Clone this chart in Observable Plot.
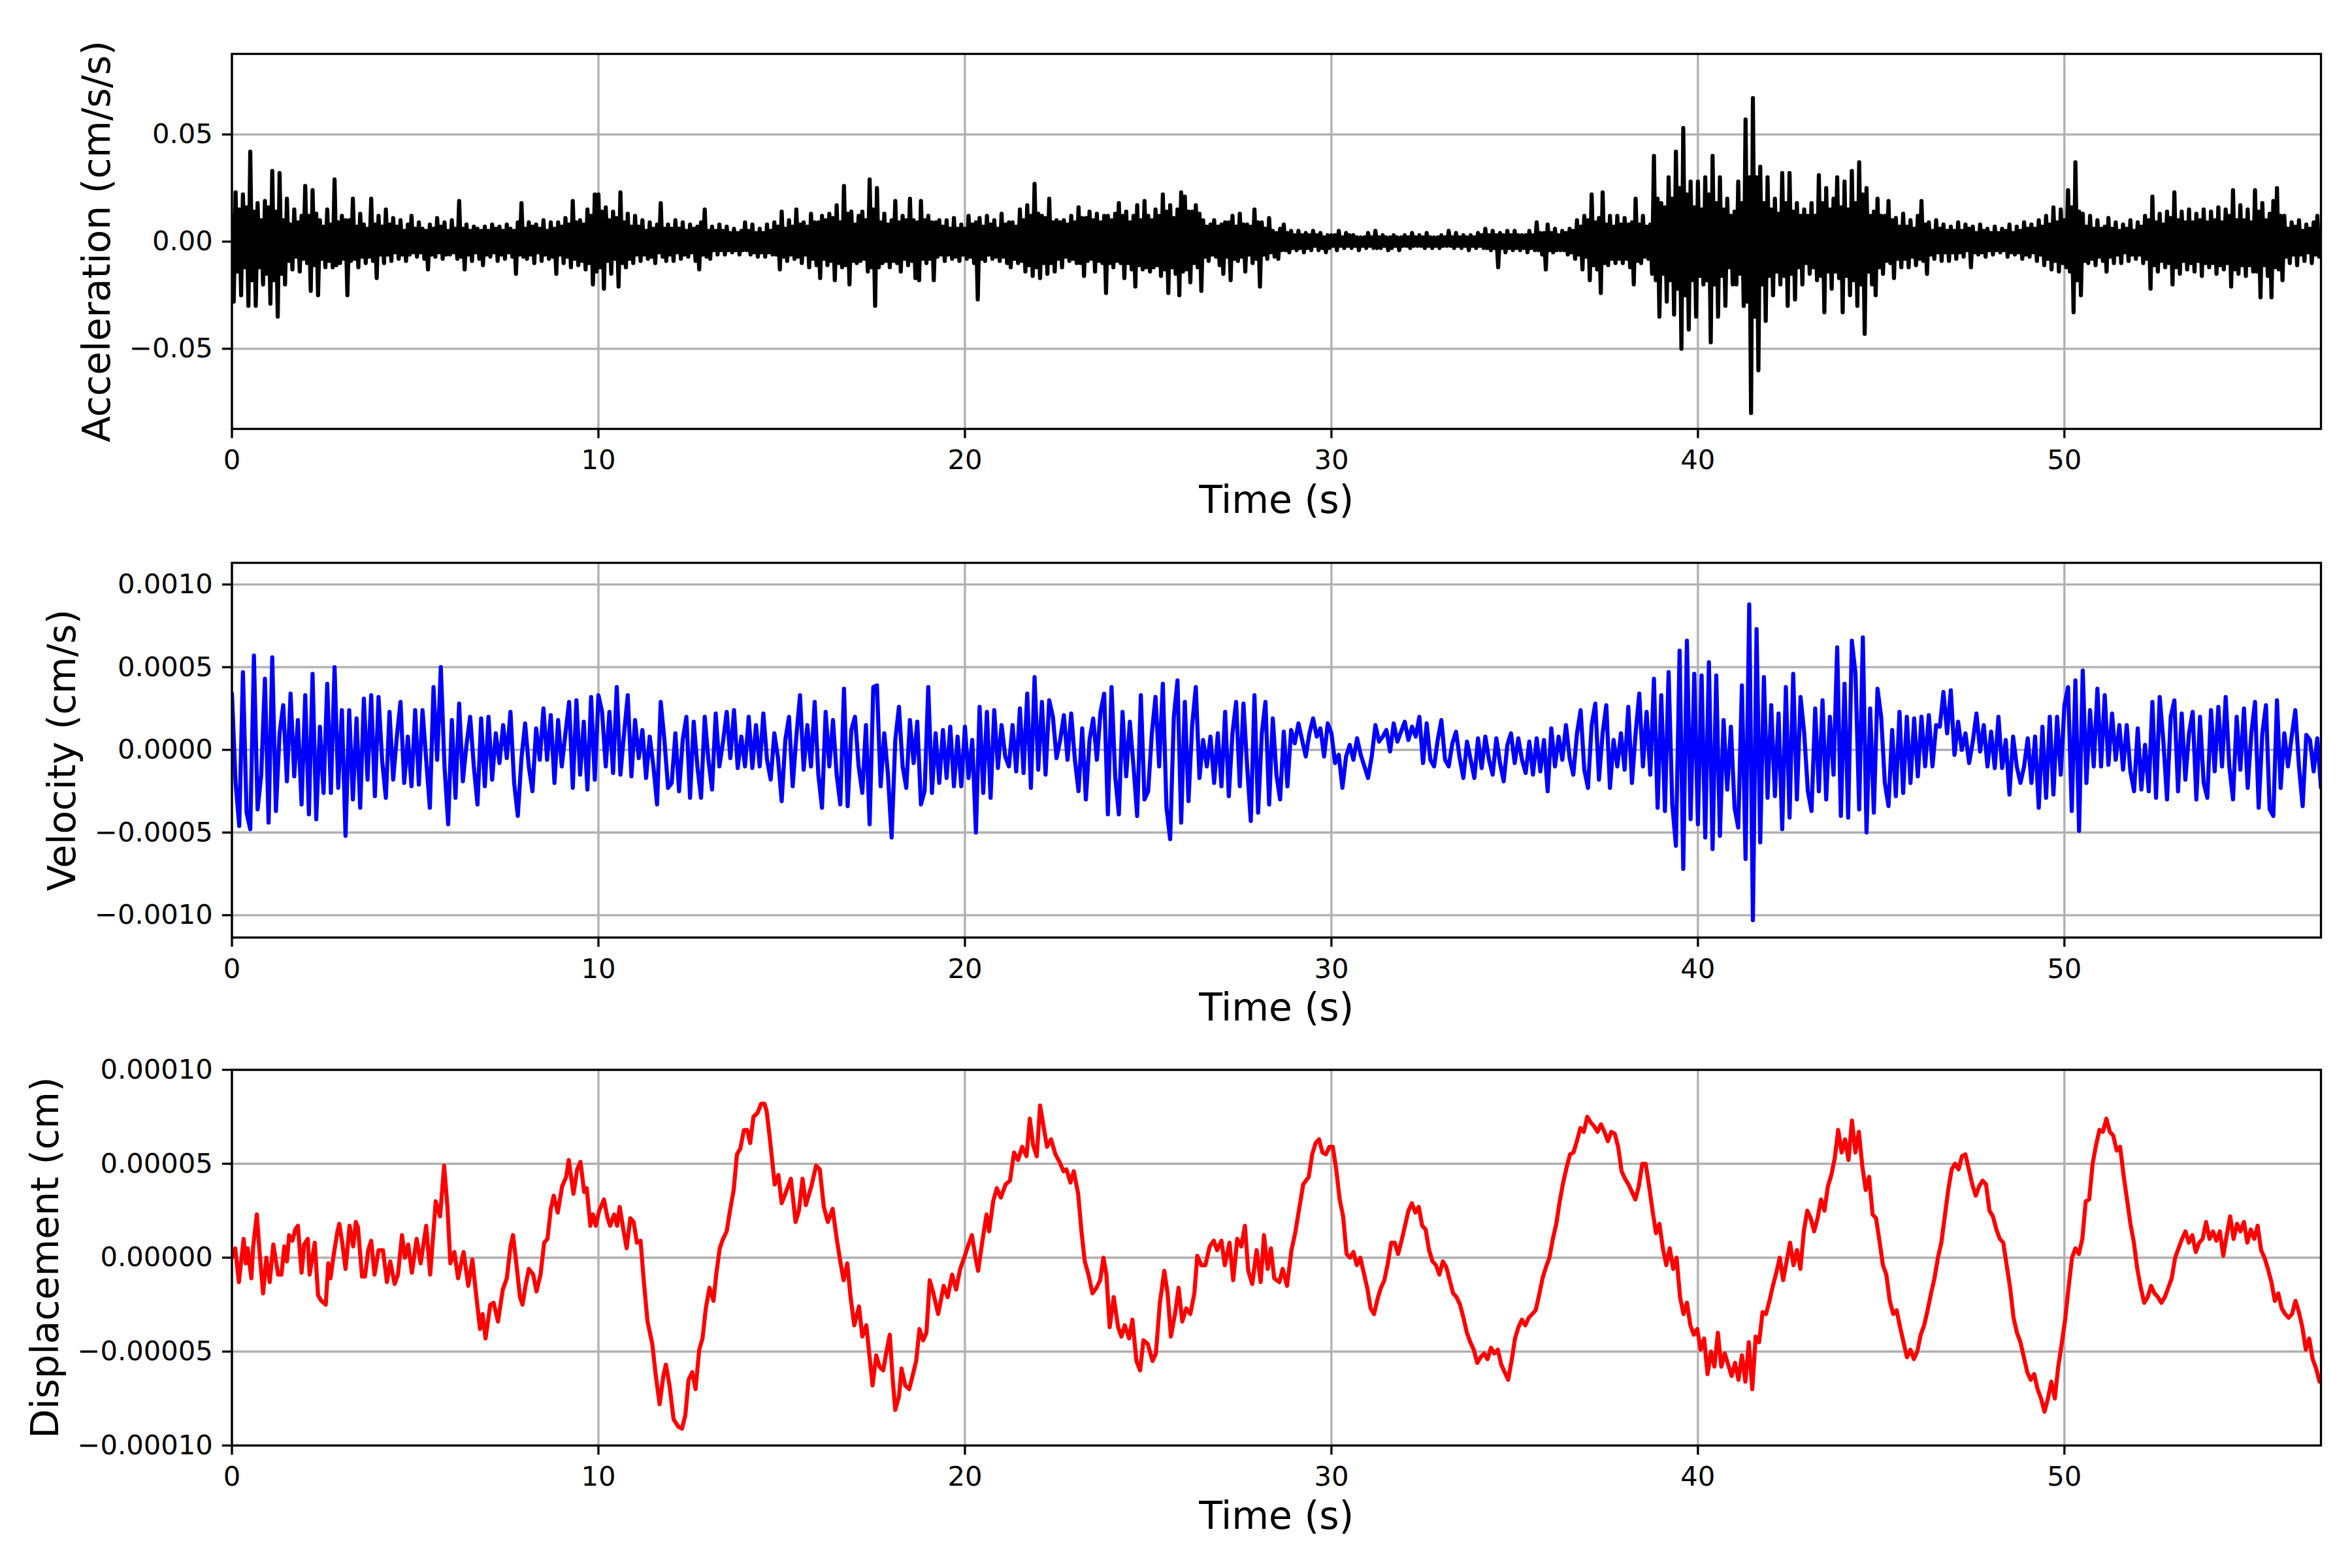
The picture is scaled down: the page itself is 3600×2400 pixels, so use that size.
<!DOCTYPE html>
<html>
<head>
<meta charset="utf-8">
<script src="https://cdn.jsdelivr.net/npm/d3@7"></script>
<script src="https://cdn.jsdelivr.net/npm/@observablehq/plot@0.6"></script>
<style>
  html, body { margin: 0; padding: 0; background: #ffffff; }
  #chart { width: 3600px; height: 2400px; background: #ffffff; }
  #chart svg { display: block; }
</style>
</head>
<body>
<div id="chart"></div>
<script>
// ---------------- Axis text ----------------
const xLabel = "Time (s)";
const accLabel = "Acceleration (cm/s/s)";
const velLabel = "Velocity (cm/s)";
const dispLabel = "Displacement (cm)";

const xTicks = [0, 10, 20, 30, 40, 50];
const accTicks = [-0.05, 0, 0.05];
const velTicks = [-0.001, -0.0005, 0, 0.0005, 0.001];
const dispTicks = [-0.0001, -0.00005, 0, 0.00005, 0.0001];

// ---------------- Acceleration (units of 1e-3 cm/s/s), sampled every 0.05 s ----------------
const accUnit = 1e-3;
const accStep = 0.05;
const accValues = [
  12,-28,23,-14,15,-25,22,-12,16,-30,42,-18,14,-30,18,-12,10,-20,19,-15,
  16,-29,33,-18,14,-35,32,-15,10,-20,20,-9,8,-13,15,-7,9,-14,12,-8,
  26,-10,12,-23,24,-11,13,-25,10,-8,7,-12,15,-9,8,-12,29,-11,9,-10,
  12,-8,10,-25,10,-9,20,-8,7,-12,13,-7,8,-10,6,-7,20,-9,8,-17,
  12,-6,7,-10,15,-6,8,-9,11,-5,7,-8,10,-6,5,-9,8,-6,12,-5,
  6,-7,9,-5,6,-8,5,-13,8,-6,6,-7,11,-5,7,-8,9,-6,5,-6,
  10,-5,6,-8,19,-7,6,-13,8,-6,5,-9,7,-5,6,-8,5,-11,7,-6,
  5,-7,8,-5,6,-9,7,-6,5,-8,8,-5,6,-7,5,-15,9,-6,18,-7,
  6,-8,9,-6,7,-10,8,-5,6,-9,10,-6,5,-8,9,-7,6,-15,9,-6,
  7,-10,11,-7,8,-12,19,-8,9,-11,10,-9,8,-13,15,-10,12,-20,22,-14,
  22,-12,14,-22,16,-9,10,-15,14,-8,11,-21,23,-10,9,-12,13,-8,7,-10,
  12,-6,7,-9,10,-6,5,-8,9,-7,6,-10,8,-5,18,-7,6,-9,8,-6,
  6,-9,10,-5,6,-8,9,-6,5,-7,8,-5,6,-9,7,-13,9,-6,15,-7,
  5,-8,7,-4,5,-6,8,-4,5,-6,7,-4,4,-5,6,-4,4,-6,5,-4,
  9,-4,5,-6,8,-5,4,-7,6,-5,4,-7,8,-5,5,-6,9,-6,7,-13,
  14,-7,6,-9,10,-6,7,-8,15,-7,8,-10,9,-6,7,-12,13,-8,9,-11,
  9,-17,12,-8,10,-11,13,-9,11,-18,17,-10,9,-12,26,-11,13,-20,14,-9,
  8,-10,12,-9,14,-8,10,-14,29,-12,15,-30,25,-12,9,-10,13,-9,8,-12,
  10,-9,19,-10,9,-14,12,-8,10,-11,20,-9,10,-17,9,-18,19,-8,10,-10,
  12,-8,9,-18,9,-7,10,-6,7,-9,10,-6,6,-8,11,-7,6,-9,8,-6,
  6,-8,12,-7,8,-10,9,-27,11,-8,7,-9,12,-6,8,-8,10,-7,6,-9,
  13,-7,8,-10,9,-12,9,-8,7,-10,15,-9,10,-14,17,-11,12,-16,27,-12,
  13,-17,12,-10,11,-15,20,-10,9,-14,10,-8,9,-12,10,-7,8,-9,12,-8,
  9,-10,16,-10,11,-16,11,-9,14,-8,10,-14,13,-9,9,-10,12,-24,12,-10,
  10,-12,13,-9,18,-10,12,-17,14,-10,9,-13,12,-21,17,-11,10,-13,19,-12,
  12,-14,10,-12,15,-11,12,-16,22,-13,14,-24,17,-12,11,-15,15,-25,23,-14,
  21,-13,14,-19,14,-10,17,-12,13,-23,10,-7,7,-9,8,-6,10,-7,7,-11,
  8,-15,9,-7,9,-18,12,-8,7,-9,13,-7,8,-14,8,-6,7,-10,15,-8,
  9,-21,9,-6,6,-8,11,-5,5,-7,4,-8,6,-4,8,-4,4,-5,5,-3,
  3,-4,5,-3,3,-5,4,-3,3,-4,5,-2,3,-4,4,-3,2,-5,3,-3,
  3,-2,3,-4,5,-2,2,-3,4,-2,3,-3,3,-2,2,-4,2,-2,2,-3,
  4,-2,2,-3,5,-3,2,-3,3,-2,2,-4,2,-3,3,-2,2,-4,2,-2,
  3,-2,2,-3,4,-2,2,-2,3,-2,2,-3,4,-2,2,-3,2,-2,2,-3,
  3,-2,2,-2,5,-2,2,-3,4,-2,2,-3,3,-2,2,-4,3,-2,2,-3,
  4,-2,3,-3,6,-3,3,-4,5,-3,3,-12,4,-3,3,-5,5,-3,3,-4,
  5,-3,3,-4,3,-3,3,-5,5,-3,3,-4,9,-4,4,-6,4,-13,8,-4,
  4,-5,6,-4,3,-4,5,-4,4,-6,6,-5,5,-8,10,-6,7,-13,12,-7,
  10,-18,22,-11,9,-13,11,-24,23,-10,8,-11,12,-8,7,-10,12,-8,8,-10,
  11,-8,8,-12,9,-20,20,-9,8,-10,12,-7,7,-8,8,-15,40,-18,20,-35,
  18,-15,16,-28,30,-18,20,-34,42,-22,25,-50,53,-25,22,-41,28,-18,16,-35,
  28,-16,15,-20,30,-18,22,-47,40,-20,18,-35,30,-16,15,-30,20,-12,12,-20,
  14,-20,28,-15,18,-30,57,-28,30,-80,67,-35,30,-60,35,-20,18,-37,30,-16,
  15,-25,20,-14,13,-20,32,-16,18,-30,32,-15,14,-27,18,-12,12,-20,15,-10,
  12,-15,18,-12,12,-18,31,-16,18,-33,25,-14,15,-22,20,-14,30,-17,16,-33,
  28,-16,15,-25,33,-18,18,-30,37,-20,22,-43,25,-14,12,-20,14,-25,20,-12,
  12,-15,12,-9,19,-10,10,-17,11,-8,7,-12,13,-8,7,-12,10,-7,6,-11,
  12,-8,19,-9,8,-15,9,-6,5,-8,10,-5,6,-9,8,-5,5,-9,7,-5,
  5,-8,9,-5,5,-7,8,-4,6,-12,7,-5,4,-6,8,-5,5,-7,6,-4,
  4,-6,7,-4,4,-5,6,-4,5,-7,8,-5,4,-6,7,-5,5,-8,9,-6,
  6,-7,8,-5,6,-9,10,-6,7,-11,12,-8,8,-13,16,-9,9,-14,15,-10,
  10,-12,24,-14,16,-33,37,-18,14,-25,13,-9,7,-10,12,-8,6,-11,10,-7,
  6,-9,7,-14,11,-7,6,-10,9,-6,5,-10,8,-5,6,-9,10,-6,5,-8,
  9,-6,7,-10,12,-8,10,-22,21,-11,9,-14,13,-9,8,-12,14,-10,11,-20,
  23,-12,10,-15,14,-9,9,-13,15,-10,9,-14,13,-9,10,-16,15,-10,9,-12,
  14,-10,10,-15,16,-11,9,-13,15,-10,12,-21,24,-13,10,-15,17,-11,10,-16,
  15,-11,9,-14,24,-14,14,-26,18,-11,10,-16,13,-26,19,-12,25,-13,12,-18,
  12,-7,6,-10,9,-6,7,-11,10,-6,5,-9,8,-5,6,-10,9,-6,12,-7,
  4
];

// ---------------- Velocity (units of 1e-6 cm/s), sampled every 0.1 s ----------------
const velUnit = 1e-6;
const velStep = 0.1;
const velValues = [
  340,-200,-460,470,-380,-480,570,-360,-150,430,
  -440,560,-370,100,270,-190,340,-160,180,-330,
  330,-390,460,-420,140,-260,400,-260,500,-230,
  240,-520,240,-300,190,-350,310,-180,330,-280,
  320,-70,-290,230,-180,80,290,-200,80,-220,
  240,-210,240,-60,-350,380,-60,500,-100,-450,
  180,-290,280,-190,30,200,-100,-330,190,-220,
  200,-180,100,-80,150,-50,230,-200,-400,-50,
  160,-100,-250,130,-60,250,-60,210,-200,180,
  -100,100,290,-230,300,-150,170,-240,320,-180,
  330,230,-100,230,-140,380,-150,100,330,-160,
  180,-50,120,-170,80,-100,-330,290,60,-230,
  -200,100,-250,60,200,-290,170,-100,-290,200,
  -60,-240,220,-100,50,230,-50,240,-110,80,
  -100,200,-110,150,-100,220,-60,-180,100,-50,
  -310,60,200,-220,80,330,-120,150,-100,290,
  -150,-350,230,-100,180,-150,-330,370,-340,120,
  200,-100,-260,150,-450,380,390,-220,100,-150,
  -530,60,260,-100,-230,180,-80,170,-330,-250,
  380,-260,100,-200,120,-170,140,-220,80,-220,
  140,-170,60,-500,260,-260,230,-290,240,-110,
  150,-40,-100,150,-130,250,-140,340,-230,440,
  -120,290,-150,300,200,-50,60,210,-60,220,
  -60,-250,130,-300,60,190,-60,230,340,-390,
  380,-160,-390,230,-160,170,-100,-400,330,-300,
  -250,100,320,-100,400,-350,-540,200,420,-440,
  290,-310,150,380,-170,60,-100,80,-200,100,
  -220,230,-280,100,290,-220,280,-100,-430,330,
  -380,100,290,-330,190,-150,-300,110,-220,120,
  40,160,60,-40,100,190,80,130,-40,160,
  100,-80,-30,-230,-40,30,-60,70,-30,-100,
  -170,-40,150,50,80,120,-10,160,50,110,
  170,60,140,80,200,-80,160,-60,-100,60,
  180,-60,-100,40,110,-50,-170,50,-60,-170,
  70,-110,80,-60,-150,70,-80,-190,30,100,
  -80,70,-60,-140,50,-150,70,-130,60,-250,
  130,-100,80,-60,150,-50,-150,100,240,-120,
  -230,150,280,-180,100,270,-230,60,-100,100,
  -120,260,-200,100,340,-100,230,-150,430,-350,
  330,-370,470,-330,-580,600,-720,660,-420,460,
  -450,450,-530,530,-600,450,-520,180,-240,140,
  -350,-470,390,-660,880,-1030,730,-560,440,-290,
  270,-280,220,-480,380,-410,460,-300,320,100,
  -250,-370,250,-250,300,-300,200,-150,620,-400,
  400,-410,660,460,-360,680,-500,250,-380,370,
  200,-200,-340,120,-280,230,-260,200,-200,190,
  -160,200,-100,210,-100,150,140,350,100,360,
  -30,170,0,100,-80,50,220,-10,150,-100,
  110,-110,200,-110,60,-270,80,-100,-200,-100,
  70,-200,80,-350,140,-290,200,-270,200,-150,
  270,380,-370,420,-490,480,-200,240,-100,370,
  -100,330,-90,220,-60,150,-120,150,-130,-250,
  130,-240,30,-250,290,-290,320,50,-300,200,
  300,-250,220,-180,100,230,-300,200,-200,-290,
  240,-130,260,-100,320,-100,-300,200,-120,250,
  -230,100,290,-350,100,270,-360,-400,300,-230,
  100,-100,80,240,-100,-340,90,60,-130,70,
  -230
];

// ---------------- Displacement (units of 1e-6 cm) ----------------
const dispUnit = 1e-6;
// first part, read at irregular times (s)
const dispTimesA = [
  0.00,0.09,0.19,0.32,0.38,0.43,0.53,0.58,0.68,0.75,0.85,0.94,1.03,1.13,1.26,1.35,1.43,1.50,1.56,1.65,
  1.73,1.80,1.90,1.97,2.07,2.12,2.26,2.35,2.44,2.56,2.63,2.69,2.78,2.88,2.93,3.01,3.10,3.21,3.31,3.38,
  3.44,3.55,3.63,3.72,3.80,3.89,4.00,4.12,4.23,4.32,4.44,4.53,4.64,4.72,4.81,4.91,5.04,5.15,5.30,5.41,
  5.56,5.68,5.79,5.88,5.96,6.07,6.17,6.32,6.45,6.56,6.67,6.77,6.84,6.92,7.05,7.14,7.26,7.39,7.50,7.60,
  7.67,7.76,7.86,7.93,8.01,8.10,8.22,8.31,8.42,8.52,8.61,8.70,8.78,8.89,9.01,9.12,9.19,9.32,9.42,9.51,
  9.61,9.68,9.78,9.85,9.93,10.02,10.15,10.25,10.32,10.43,10.51,10.58,10.68,10.77,10.87,10.96,11.05,11.15,11.24,11.34,
  11.47,11.56,11.67,11.77,11.84,11.94,12.05,12.18,12.28,12.37,12.46,12.56,12.65,12.75,12.84,12.93,13.03,13.14,13.22,13.31,
  13.40,13.50,13.59,13.69,13.78,13.87,13.97,14.06,14.14,14.23,14.34,14.44,14.53,14.59,14.68,14.81,14.91,15.00,15.10,15.25,
  15.38,15.47,15.57,15.66,15.81,15.94,16.04,16.15,16.26,16.39,16.51,16.60,16.69,16.79,16.88,16.98,17.11,17.20,17.31,17.41,
  17.48,17.58,17.67,17.77,17.86,17.95,18.03,18.10,18.20,18.27,18.37,18.48,18.57,18.67,18.76,18.86,18.95,19.04,19.14,19.27,
  19.42,19.53,19.65,19.76,19.87,19.98,20.08,20.19,20.29,20.36,20.47,20.59,20.66,20.77,20.87,20.98,21.11,21.23,21.34,21.45,
  21.56,21.68,21.77,21.86,21.96,22.05,22.17,22.24,22.35,22.47,22.58,22.69,22.77,22.88,22.97,23.09,23.18,23.27,23.37,23.48,
  23.59,23.69,23.78,23.86,23.95,24.06,24.18,24.27,24.36,24.48,24.57,24.68,24.78,24.87,24.99,25.12,25.21,25.32,25.44,25.53,
  25.62,25.74,25.83,25.93,26.04,26.15,26.26,26.34,26.45,26.56,26.68,26.79,26.88,27.00,27.09,27.22,27.32,27.43,27.54,27.64,
  27.73,27.84,27.96,28.07,28.16,28.26,28.35,28.44,28.58,28.67,28.79,28.91,29.01,29.12,29.23
];
const dispValuesA = [
  0,5,-13,10,-3,5,-11,6,23,4,-19,0,-13,7,-9,-9,6,-2,12,9,
  15,17,-8,7,10,-9,8,-20,-23,-25,-3,-11,2,14,18,8,-6,17,6,19,
  16,-10,-10,4,9,-9,4,4,-13,-2,-14,-9,12,0,7,-8,10,-3,17,-9,
  30,22,49,27,-3,3,-11,3,-15,-1,-21,-38,-30,-43,-25,-24,-34,-17,-11,6,
  12,-3,-21,-25,-15,-6,-9,-18,-9,8,10,26,33,24,38,43,52,34,47,51,
  35,37,17,23,17,25,31,21,17,23,17,27,15,5,21,19,8,9,-13,-34,
  -46,-62,-78,-63,-57,-68,-86,-90,-91,-84,-65,-61,-70,-49,-43,-27,-16,-23,-8,5,
  10,14,25,36,55,58,68,68,61,75,77,82,82,78,63,39,44,29,34,42,
  19,25,42,28,38,49,47,27,19,26,9,-2,-12,-3,-21,-36,-26,-42,-36,-55,
  -68,-52,-58,-60,-50,-41,-65,-81,-74,-59,-68,-70,-63,-55,-38,-44,-40,-12,-19,-30,
  -15,-21,-9,-17,-6,0,6,12,0,-7,8,23,14,30,37,32,39,41,56,52,
  59,54,74,60,54,81,67,59,63,55,51,46,47,40,46,34,14,-2,-9,-19,
  -16,-12,0,-9,-37,-21,-37,-42,-36,-43,-33,-55,-60,-44,-46,-55,-51,-24,-7,-19,
  -42,-29,-16,-34,-27,-30,-19,1,-4,-4,6,9,4,9,-4,8,-12,10,6,17,
  -7,-14,4,-13,12,-6,5,-11,-13,-6,-15,4,13,26,39
];
// second part, read at a regular spacing
const dispStartB = 29.381;
const dispStepB = 0.09381;
const dispValuesB = [
  43,55,61,63,56,55,59,59,47,31,
  22,2,0,3,-4,0,-8,-16,-27,-30,
  -22,-16,-12,-3,8,8,2,9,17,25,
  29,24,27,17,15,4,-2,-4,-9,-2,
  -5,-12,-19,-21,-25,-32,-40,-45,-49,-56,
  -53,-51,-54,-48,-51,-49,-57,-61,-65,-55,
  -43,-37,-33,-36,-32,-30,-28,-20,-11,-5,
  0,10,18,30,40,48,55,56,62,69,
  67,75,72,70,67,71,67,62,67,66,
  59,46,42,39,35,31,38,50,50,38,
  25,13,18,5,-4,5,-6,0,-21,-30,
  -24,-36,-41,-38,-49,-43,-62,-50,-58,-40,
  -58,-51,-57,-63,-56,-65,-52,-66,-45,-70,
  -42,-45,-29,-30,-23,-15,-8,0,-12,-2,
  8,-4,4,-6,14,25,21,14,21,31,
  25,38,44,53,68,56,63,52,73,56,
  67,49,36,43,23,21,9,-4,-9,-23,
  -30,-28,-37,-45,-53,-49,-54,-50,-41,-36,
  -28,-19,-11,0,8,22,36,47,50,47,
  54,55,47,39,33,38,41,39,25,22,
  15,10,8,-4,-16,-32,-40,-45,-53,-61,
  -65,-62,-70,-75,-82,-75,-66,-75,-58,-46,
  -33,-16,0,5,2,10,30,31,50,60,
  68,67,74,67,65,57,59,44,31,18,
  8,-6,-16,-24,-21,-15,-19,-21,-24,-21,
  -16,-11,0,5,10,14,8,12,3,8,
  10,19,10,14,9,14,1,12,22,10,
  18,14,19,8,15,10,17,4,0,-6,
  -13,-23,-19,-27,-30,-32,-30,-23,-29,-37,
  -49,-43,-54,-59,-66
];

// ---------------- Tables built from the arrays ----------------
const accData = accValues.map((v, i) => ({t: i * accStep, v: v * accUnit}));
const velData = velValues.map((v, i) => ({t: i * velStep, v: v * velUnit}));
const dispData = dispTimesA.map((t, i) => ({t, v: dispValuesA[i] * dispUnit}))
  .concat(dispValuesB.map((v, i) => ({t: dispStartB + i * dispStepB, v: v * dispUnit})));

// ---------------- Shared styling (matplotlib look at 300 dpi) ----------------
const FONT = "DejaVu Sans";
const tickFont = 41.7;
const labelFont = 58.3;
const lw = 3.33;          // 0.8 pt
const tickLen = 14.6;     // 3.5 pt
const gridColor = "#b0b0b0";

function panel({data, color, yDomain, yTicks, yFormat, yLabel, yLabelDx, height, marginTop, marginBottom, xLabelDy}) {
  return Plot.plot({
    width: 3600,
    height,
    marginTop,
    marginBottom,
    marginLeft: 354.5,
    marginRight: 48,
    style: {fontFamily: FONT, background: "#ffffff", color: "#000000", overflow: "visible"},
    x: {domain: [0, 57.0], axis: null},
    y: {domain: yDomain, axis: null},
    marks: [
      Plot.gridX(xTicks, {stroke: gridColor, strokeOpacity: 1, strokeWidth: lw}),
      Plot.gridY(yTicks, {stroke: gridColor, strokeOpacity: 1, strokeWidth: lw}),
      Plot.line(data, {x: "t", y: "v", stroke: color, strokeWidth: 6.25, strokeLinejoin: "round", clip: true}),
      Plot.frame({stroke: "#000000", strokeWidth: lw}),
      Plot.axisX({ticks: xTicks, tickFormat: d => String(d), tickSize: tickLen, tickPadding: 17.4,
                  strokeWidth: lw, fontSize: tickFont, label: null, fill: "#000000"}),
      Plot.axisY({ticks: yTicks, tickFormat: yFormat, tickSize: tickLen, tickPadding: 14.6,
                  strokeWidth: lw, fontSize: tickFont, label: null, fill: "#000000"}),
      Plot.text([yLabel], {text: d => d, frameAnchor: "left", dx: yLabelDx, rotate: -90,
                  textAnchor: "middle", lineAnchor: "middle",
                  fontSize: labelFont, fill: "#000000"}),
      Plot.text([xLabel], {text: d => d, frameAnchor: "bottom", dy: xLabelDy,
                  textAnchor: "middle", lineAnchor: "middle",
                  fontSize: labelFont, fill: "#000000"})
    ]
  });
}

const chart = document.getElementById("chart");
chart.append(panel({
  data: accData, color: "#000000", yDomain: [-0.0874, 0.0876], yTicks: accTicks,
  yFormat: d3.format(".2f"), yLabel: accLabel, yLabelDx: -206,
  height: 780, marginTop: 82, marginBottom: 124, xLabelDy: 110
}));
chart.append(panel({
  data: velData, color: "#0000ff", yDomain: [-0.001135, 0.001131], yTicks: velTicks,
  yFormat: d3.format(".4f"), yLabel: velLabel, yLabelDx: -259,
  height: 779, marginTop: 81, marginBottom: 124.5, xLabelDy: 108
}));
chart.append(panel({
  data: dispData, color: "#ff0000", yDomain: [-0.0001, 0.0001], yTicks: dispTicks,
  yFormat: d3.format(".5f"), yLabel: dispLabel, yLabelDx: -285,
  height: 841, marginTop: 78, marginBottom: 188, xLabelDy: 109
}));
</script>
</body>
</html>
